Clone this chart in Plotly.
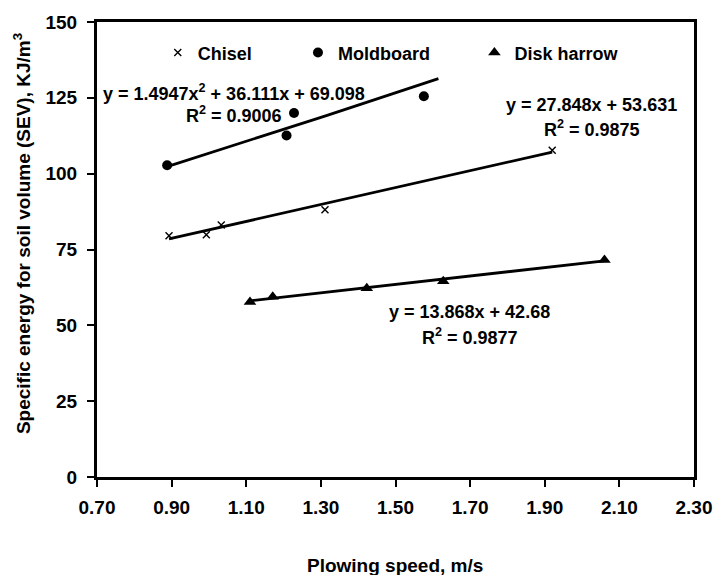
import numpy as np
import plotly.graph_objects as go

# ---- data ----
chisel_x = [0.893, 0.993, 1.033, 1.311, 1.920]
chisel_y = [79.5, 79.9, 83.1, 88.1, 107.7]

moldboard_x = [0.888, 1.208, 1.228, 1.576]
moldboard_y = [102.8, 112.6, 120.0, 125.5]

disk_x = [1.110, 1.171, 1.423, 1.628, 2.060]
disk_y = [57.7, 59.4, 62.2, 64.5, 71.5]

# trendline coefficients (highest power first) and drawn x-extent
chisel_fit = [27.848, 53.631]
moldboard_fit = [1.4947, 36.111, 69.098]
disk_fit = [13.868, 42.68]
chisel_trend_range = [0.893, 1.920]
moldboard_trend_range = [0.888, 1.615]
disk_trend_range = [1.110, 2.060]

eq_texts = ["y = 1.4947x<sup>2</sup> + 36.111x + 69.098", "R<sup>2</sup> = 0.9006",
            "y = 27.848x + 53.631", "R<sup>2</sup> = 0.9875",
            "y = 13.868x + 42.68", "R<sup>2</sup> = 0.9877"]

x_tickvals = [0.70, 0.90, 1.10, 1.30, 1.50, 1.70, 1.90, 2.10, 2.30]
x_ticktext = ["0.70", "0.90", "1.10", "1.30", "1.50", "1.70", "1.90", "2.10", "2.30"]
y_tickvals = [0, 25, 50, 75, 100, 125, 150]
y_ticktext = ["0", "25", "50", "75", "100", "125", "150"]

x_title = "Plowing speed, m/s"
y_title = "Specific energy for soil volume (SEV), KJ/m<sup>3</sup>"

FONT = "Arial, Liberation Sans, sans-serif"

# plot area in pixels
W, H = 724, 575
L, R, T, B = 97, 18, 19, 98
pw, ph = W - L - R, H - T - B


def px2paper(px, py):
    return (px - L) / pw, (H - B - py) / ph


fig = go.Figure()

def trend(coefs, rng, n):
    xs = np.linspace(rng[0], rng[1], n)
    return xs, np.polyval(coefs, xs)

for coefs, rng, n in [(chisel_fit, chisel_trend_range, 2),
                      (moldboard_fit, moldboard_trend_range, 40),
                      (disk_fit, disk_trend_range, 2)]:
    tx, ty = trend(coefs, rng, n)
    fig.add_trace(go.Scatter(x=tx, y=ty, mode="lines", showlegend=False,
                             line=dict(color="black", width=2.8), hoverinfo="skip"))

fig.add_trace(go.Scatter(x=chisel_x, y=chisel_y, mode="markers", name="Chisel",
                         legend="legend",
                         marker=dict(symbol="x-thin", size=7, color="black",
                                     line=dict(color="black", width=1.4))))
fig.add_trace(go.Scatter(x=moldboard_x, y=moldboard_y, mode="markers", name="Moldboard",
                         legend="legend2",
                         marker=dict(symbol="circle", size=10, color="black")))
fig.add_trace(go.Scatter(x=disk_x, y=disk_y, mode="markers", name="Disk harrow",
                         legend="legend3",
                         marker=dict(symbol="triangle-up", size=11, color="black")))

legend_font = dict(family=FONT, size=18, color="black", weight="bold")

def leg(marker_px):
    x, y = px2paper(marker_px - 20 + 5, 50)
    return dict(x=x, y=y, xanchor="left", yanchor="middle", orientation="h",
                bgcolor="rgba(0,0,0,0)", font=legend_font, itemwidth=30,
                borderwidth=0)

# annotations: equations
ann_pos = [(237, 90), (237, 112), (601, 103), (602, 126), (477, 311), (478, 336)]
annotations = []
for txt, (ax, ay) in zip(eq_texts, ann_pos):
    x, y = px2paper(ax, ay)
    annotations.append(dict(x=x, y=y, xref="paper", yref="paper", text=txt,
                            showarrow=False, xanchor="center", yanchor="middle",
                            font=dict(family=FONT, size=18, color="black", weight="bold")))
# axis titles
x, y = px2paper(401, 566)
annotations.append(dict(x=x, y=y, xref="paper", yref="paper", text=x_title,
                        showarrow=False, xanchor="center", yanchor="middle",
                        font=dict(family=FONT, size=19, color="black", weight="bold")))
x, y = px2paper(20, 232)
annotations.append(dict(x=x, y=y, xref="paper", yref="paper", text=y_title,
                        showarrow=False, xanchor="center", yanchor="middle", textangle=-90,
                        font=dict(family=FONT, size=19, color="black", weight="bold")))

tickfont = dict(family=FONT, size=19, color="black", weight="bold")

fig.update_layout(
    width=W, height=H,
    margin=dict(l=L, r=R, t=T, b=B, pad=0),
    paper_bgcolor="white", plot_bgcolor="white",
    legend=leg(174), legend2=leg(317), legend3=leg(497),
    annotations=annotations,
    xaxis=dict(range=[0.7, 2.3], tickvals=x_tickvals, ticktext=x_ticktext,
               showgrid=False, zeroline=False, showline=True, linecolor="black",
               linewidth=3, mirror=True, ticks="outside", ticklen=7, tickwidth=1.5,
               tickcolor="black", tickfont=tickfont, ticklabelstandoff=4,
               ticklabeloverflow="allow"),
    yaxis=dict(range=[0, 150], tickvals=y_tickvals, ticktext=y_ticktext,
               showgrid=False, zeroline=False, showline=True, linecolor="black",
               linewidth=3, mirror=True, ticks="outside", ticklen=7, tickwidth=1.5,
               tickcolor="black", tickfont=tickfont, ticklabelstandoff=6,
               ticklabeloverflow="allow"),
)

fig.write_html("out.html", config={"displayModeBar": False},
               post_script="document.body.style.margin='0px';document.body.style.overflow='hidden';")
